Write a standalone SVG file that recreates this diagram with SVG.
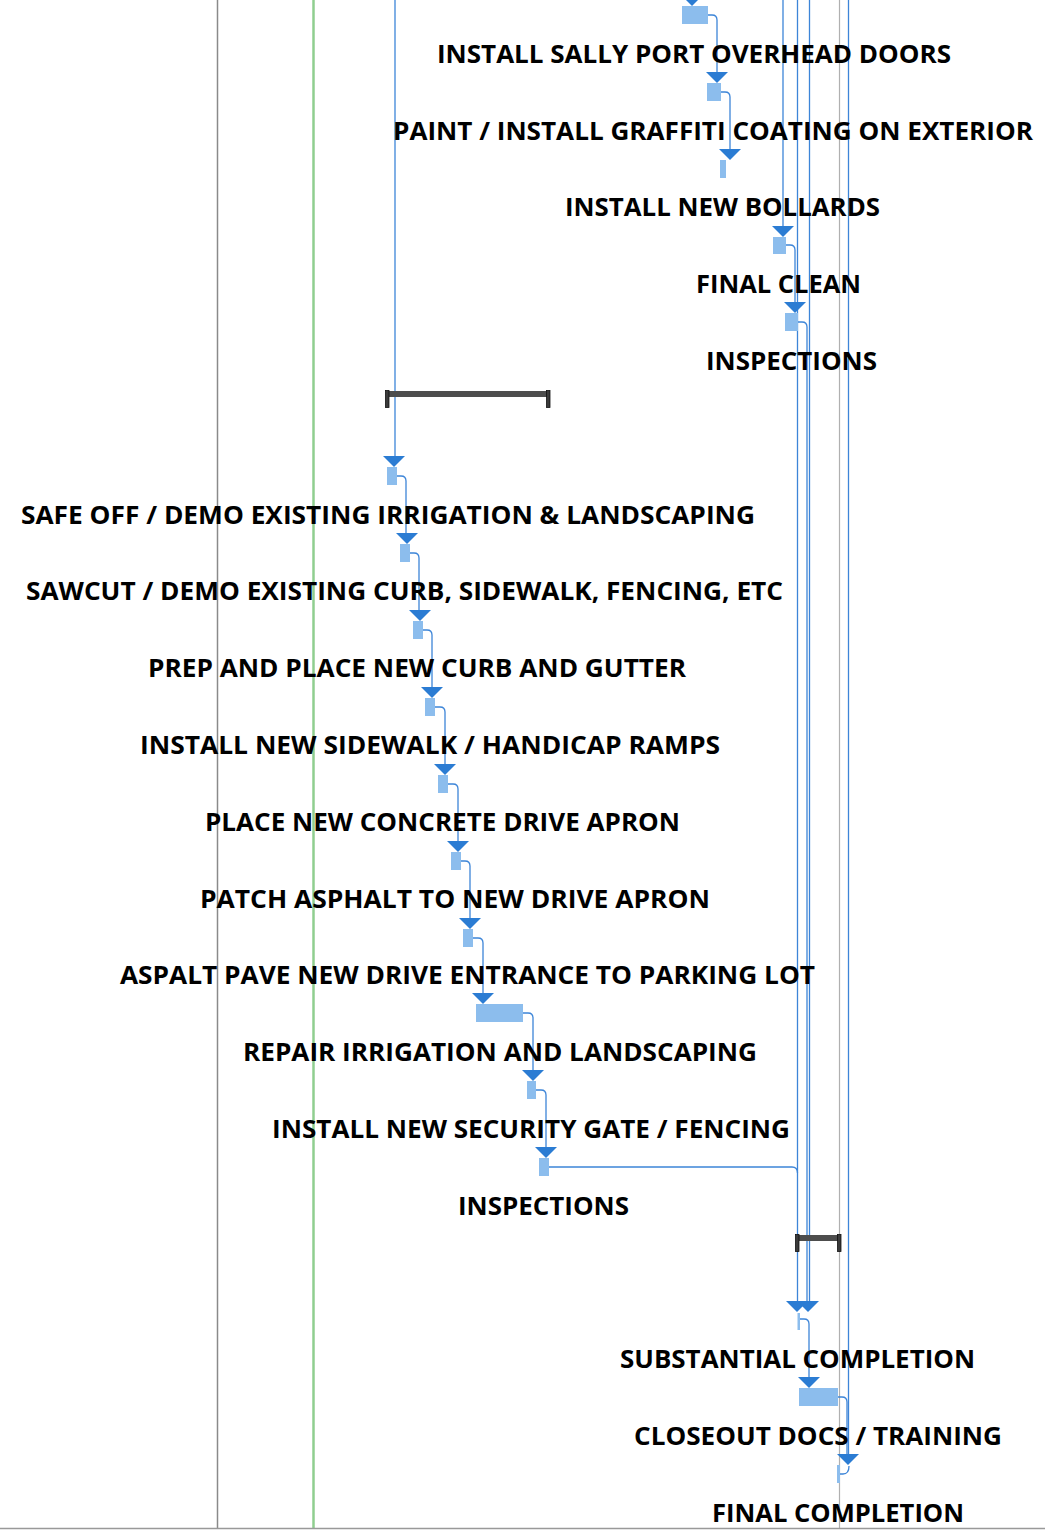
<svg xmlns="http://www.w3.org/2000/svg" width="1045" height="1530" viewBox="0 0 1045 1530">
<style>
.bar{fill:#8CBDED}
.lbl{font-family:"Open Sans","Liberation Sans",sans-serif;font-weight:700;font-size:25px;fill:#000}
.cn{fill:none;stroke:#3D85D8;stroke-width:1.3}
.ar{fill:#2B7CD3}
.sum{fill:#4d4d4d}
.cap{fill:#3a3a3a;stroke:#111;stroke-width:0.8}
</style>
<defs>
<polygon id="arr" class="ar" points="-11,0 11,0 0,11"/>
</defs>
<rect x="0" y="0" width="1045" height="1530" fill="#fff"/>
<g id="grid">
<line x1="217.5" y1="0" x2="217.5" y2="1529" stroke="#8a8a8a" stroke-width="1.5"/>
<line x1="313.5" y1="0" x2="313.5" y2="1529" stroke="#8fce8f" stroke-width="2.5"/>
<line x1="839.5" y1="0" x2="839.5" y2="1529" stroke="#b0b0b0" stroke-width="1.2"/>
<line x1="0" y1="1528.5" x2="1045" y2="1528.5" stroke="#999" stroke-width="1.5"/>
</g>
<g id="connectors">
<line class="cn" x1="395" y1="0" x2="395" y2="457"/>
<line class="cn" x1="783" y1="0" x2="783" y2="227"/>
<line class="cn" x1="797.5" y1="0" x2="797.5" y2="1302"/>
<line class="cn" x1="809.5" y1="0" x2="809.5" y2="1302"/>
<line class="cn" x1="848.5" y1="0" x2="848.5" y2="1456"/>
<path class="cn" d="M708,15 H712 Q717,15 717,20 V73"/>
<path class="cn" d="M721,92 H725 Q730,92 730,97 V150"/>
<path class="cn" d="M786,245 H790 Q795,245 795,250 V304"/>
<path class="cn" d="M798,322 H802 Q807,322 807,327 V1302"/>
<path class="cn" d="M397,476 H401 Q406,476 406,481 V534"/>
<path class="cn" d="M410,553 H414 Q419,553 419,558 V611"/>
<path class="cn" d="M423,630 H427 Q432,630 432,635 V688"/>
<path class="cn" d="M435,707 H440 Q445,707 445,712 V765"/>
<path class="cn" d="M448,784 H453 Q458,784 458,789 V842"/>
<path class="cn" d="M461,861 H465 Q470,861 470,866 V919"/>
<path class="cn" d="M473,938 H478 Q483,938 483,943 V994"/>
<path class="cn" d="M523,1013 H528 Q533,1013 533,1018 V1071"/>
<path class="cn" d="M536,1090 H541 Q546,1090 546,1095 V1148"/>
<path class="cn" d="M549,1167 H792 Q797.5,1167 797.5,1173"/>
<path class="cn" d="M800,1319 H804 Q809,1319 809,1324 V1379"/>
<path class="cn" d="M838,1397 H842 Q847,1397 847,1402 V1456"/>
<path class="cn" d="M840,1474 H843 Q849,1474 849,1466"/>
<use href="#arr" x="692" y="-5"/>
<use href="#arr" x="717" y="72"/>
<use href="#arr" x="730" y="149"/>
<use href="#arr" x="783" y="226"/>
<use href="#arr" x="795" y="302"/>
<use href="#arr" x="394" y="456"/>
<use href="#arr" x="407" y="533"/>
<use href="#arr" x="420" y="610"/>
<use href="#arr" x="432" y="687"/>
<use href="#arr" x="445" y="764"/>
<use href="#arr" x="458" y="841"/>
<use href="#arr" x="470" y="918"/>
<use href="#arr" x="483" y="993"/>
<use href="#arr" x="533" y="1070"/>
<use href="#arr" x="546" y="1147"/>
<use href="#arr" x="797" y="1301"/>
<use href="#arr" x="808" y="1301"/>
<use href="#arr" x="809" y="1377"/>
<use href="#arr" x="848" y="1454"/>
</g>
<g id="summary-1">
<rect class="sum" x="387" y="391" width="161" height="6"/>
<rect class="cap" x="385.5" y="390.5" width="3.5" height="17"/>
<rect class="cap" x="546.5" y="390.5" width="3.5" height="17"/>
</g>
<g id="summary-2">
<rect class="sum" x="797" y="1235" width="42" height="6"/>
<rect class="cap" x="795.5" y="1234.5" width="3.5" height="17"/>
<rect class="cap" x="837.5" y="1234.5" width="3.5" height="17"/>
</g>
<g id="task-1"><rect class="bar" x="682" y="6" width="26" height="18"/><text class="lbl" x="437" y="63" textLength="514" lengthAdjust="spacingAndGlyphs">INSTALL SALLY PORT OVERHEAD DOORS</text></g>
<g id="task-2"><rect class="bar" x="707" y="83" width="14" height="18"/><text class="lbl" x="393" y="140" textLength="640" lengthAdjust="spacingAndGlyphs">PAINT / INSTALL GRAFFITI COATING ON EXTERIOR</text></g>
<g id="task-3"><rect class="bar" x="720" y="160" width="6" height="18"/><text class="lbl" x="565" y="216" textLength="315" lengthAdjust="spacingAndGlyphs">INSTALL NEW BOLLARDS</text></g>
<g id="task-4"><rect class="bar" x="773" y="237" width="13" height="17"/><text class="lbl" x="696" y="293" textLength="165" lengthAdjust="spacingAndGlyphs">FINAL CLEAN</text></g>
<g id="task-5"><rect class="bar" x="785" y="313" width="13" height="18"/><text class="lbl" x="706" y="370" textLength="171" lengthAdjust="spacingAndGlyphs">INSPECTIONS</text></g>
<g id="task-6"><rect class="bar" x="387" y="467" width="10" height="18"/><text class="lbl" x="21" y="524" textLength="734" lengthAdjust="spacingAndGlyphs">SAFE OFF / DEMO EXISTING IRRIGATION &amp; LANDSCAPING</text></g>
<g id="task-7"><rect class="bar" x="400" y="544" width="10" height="18"/><text class="lbl" x="26" y="600" textLength="757" lengthAdjust="spacingAndGlyphs">SAWCUT / DEMO EXISTING CURB, SIDEWALK, FENCING, ETC</text></g>
<g id="task-8"><rect class="bar" x="413" y="621" width="10" height="18"/><text class="lbl" x="148" y="677" textLength="538" lengthAdjust="spacingAndGlyphs">PREP AND PLACE NEW CURB AND GUTTER</text></g>
<g id="task-9"><rect class="bar" x="425" y="698" width="10" height="18"/><text class="lbl" x="140" y="754" textLength="580" lengthAdjust="spacingAndGlyphs">INSTALL NEW SIDEWALK / HANDICAP RAMPS</text></g>
<g id="task-10"><rect class="bar" x="438" y="775" width="10" height="18"/><text class="lbl" x="205" y="831" textLength="475" lengthAdjust="spacingAndGlyphs">PLACE NEW CONCRETE DRIVE APRON</text></g>
<g id="task-11"><rect class="bar" x="451" y="852" width="10" height="18"/><text class="lbl" x="200" y="908" textLength="510" lengthAdjust="spacingAndGlyphs">PATCH ASPHALT TO NEW DRIVE APRON</text></g>
<g id="task-12"><rect class="bar" x="463" y="929" width="10" height="18"/><text class="lbl" x="120" y="984" textLength="695" lengthAdjust="spacingAndGlyphs">ASPALT PAVE NEW DRIVE ENTRANCE TO PARKING LOT</text></g>
<g id="task-13"><rect class="bar" x="476" y="1004" width="47" height="18"/><text class="lbl" x="243" y="1061" textLength="514" lengthAdjust="spacingAndGlyphs">REPAIR IRRIGATION AND LANDSCAPING</text></g>
<g id="task-14"><rect class="bar" x="527" y="1081" width="9" height="18"/><text class="lbl" x="272" y="1138" textLength="518" lengthAdjust="spacingAndGlyphs">INSTALL NEW SECURITY GATE / FENCING</text></g>
<g id="task-15"><rect class="bar" x="539" y="1158" width="10" height="18"/><text class="lbl" x="458" y="1215" textLength="171" lengthAdjust="spacingAndGlyphs">INSPECTIONS</text></g>
<g id="task-16"><rect class="bar" x="797.5" y="1313" width="2.5" height="17"/><text class="lbl" x="620" y="1368" textLength="355" lengthAdjust="spacingAndGlyphs">SUBSTANTIAL COMPLETION</text></g>
<g id="task-17"><rect class="bar" x="799" y="1388" width="39" height="18"/><text class="lbl" x="634" y="1445" textLength="368" lengthAdjust="spacingAndGlyphs">CLOSEOUT DOCS / TRAINING</text></g>
<g id="task-18"><rect class="bar" x="837" y="1465" width="3" height="18"/><text class="lbl" x="712" y="1522" textLength="252" lengthAdjust="spacingAndGlyphs">FINAL COMPLETION</text></g>
</svg>
